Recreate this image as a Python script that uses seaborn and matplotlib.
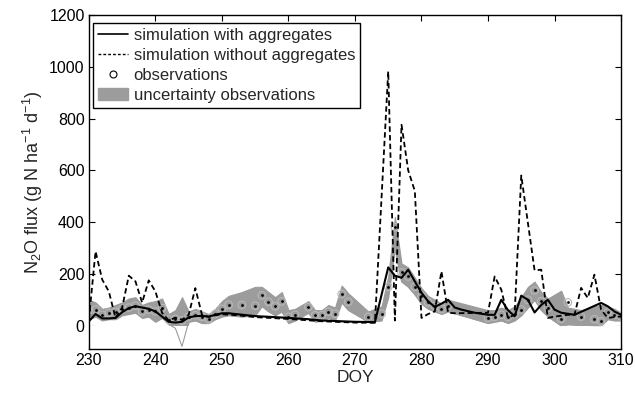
import numpy as np
import pandas as pd
import matplotlib
matplotlib.use('Agg')
import matplotlib.pyplot as plt
from matplotlib.lines import Line2D
from matplotlib.patches import Patch
import seaborn as sns

sns.set_style("ticks")
plt.rcParams['font.family'] = ['Liberation Sans', 'DejaVu Sans']
plt.rcParams['mathtext.default'] = 'regular'

#%% DATA

# simulation with aggregates
doy_agg = [230, 231, 232, 233, 234, 235, 236, 237, 238, 239, 240, 241, 242, 243,
           244, 245, 246, 247, 248, 249, 250, 251, 252, 255, 258, 260, 263, 265,
           268, 270, 273, 275, 276, 277, 278, 279, 280, 281, 282, 283, 284, 285,
           286, 288, 290, 291, 292, 293, 294, 295, 296, 297, 298, 299, 300, 301,
           303, 305, 307, 308, 309, 310]
flux_agg = [17, 45, 28, 28, 30, 52, 68, 75, 70, 65, 55, 35, 15, 12,
            15, 32, 37, 38, 35, 42, 48, 48, 45, 37, 33, 30, 25, 20,
            17, 15, 14, 225, 193, 185, 216, 171, 127, 94, 72, 85, 100, 70,
            62, 50, 42, 42, 100, 60, 36, 116, 100, 51, 80, 100, 62, 50,
            42, 65, 88, 75, 55, 42]

# simulation without aggregates
doy_noagg = [230, 231, 232, 233, 234, 235, 236, 237, 238, 239, 240, 241, 242, 243,
             244, 245, 246, 247, 248, 249, 250, 252, 255, 260, 265, 270, 273, 275,
             276, 277, 278, 279, 280, 281, 282, 283, 284, 285, 290, 291, 292, 293,
             294, 295, 297, 298, 299, 300, 302, 303, 304, 305, 306, 307, 308, 309, 310]
flux_noagg = [25, 287, 178, 132, 30, 70, 193, 171, 89, 175, 132, 50, 20, 31,
              23, 42, 145, 42, 34, 40, 44, 41, 33, 26, 17, 12, 11, 982,
              20, 776, 600, 520, 30, 45, 55, 210, 50, 48, 50, 190, 139, 30,
              42, 580, 214, 216, 30, 35, 42, 42, 146, 107, 197, 62, 30, 33, 36]

# observations and their uncertainty band
doy_obs = [230, 231, 232, 233, 234, 235, 236, 237, 238, 239, 240, 241, 242, 243,
           244, 245, 246, 247, 248, 249, 250, 251, 253, 255, 256, 257, 258, 259,
           260, 261, 263, 264, 265, 266, 267, 268, 269, 272, 274, 275, 276, 277,
           278, 279, 280, 281, 282, 283, 284, 290, 291, 292, 293, 294, 295, 296,
           297, 298, 299, 301, 302, 304, 306, 307, 308, 309, 310]
flux_obs = [60, 62, 42, 49, 53, 65, 70, 77, 55, 62, 55, 68, 23, 26,
            20, 35, 40, 34, 26, 45, 65, 81, 80, 77, 117, 92, 75, 94,
            34, 42, 72, 40, 40, 54, 46, 122, 92, 34, 46, 150, 380, 206,
            190, 150, 115, 90, 77, 64, 77, 30, 34, 42, 34, 45, 62, 100,
            136, 94, 68, 26, 90, 35, 25, 17, 51, 42, 36]
obs_low = [25, 35, 20, 25, 25, 40, 45, 50, 30, 35, 15, 30, 5, -10,
           -80, 15, 20, 10, 10, 25, 35, 40, 35, 40, 75, 55, 40, 55,
           10, 20, 50, 15, 20, 30, 20, 90, 60, 15, 20, 110, 300, 170,
           150, 120, 85, 65, 55, 45, 55, 10, 15, 20, 10, 20, 40, 70,
           100, 60, 35, 0, 5, 2, 0, 0, 25, 20, 20]
obs_high = [100, 90, 65, 70, 80, 90, 105, 110, 80, 90, 95, 105, 45, 60,
            110, 55, 65, 55, 45, 65, 95, 115, 130, 150, 150, 130, 110, 130,
            60, 65, 95, 60, 60, 80, 70, 155, 125, 55, 75, 190, 420, 240,
            225, 185, 145, 115, 100, 85, 100, 60, 60, 70, 60, 75, 110, 150,
            170, 130, 105, 135, 70, 60, 75, 80, 75, 65, 50]

agg = pd.DataFrame({'DOY': doy_agg, 'flux': flux_agg})
noagg = pd.DataFrame({'DOY': doy_noagg, 'flux': flux_noagg})
obs = pd.DataFrame({'DOY': doy_obs, 'flux': flux_obs, 'low': obs_low, 'high': obs_high})

#%% PLOT

band_grey = '#9c9c9c'
fig = plt.figure(figsize=(6.35, 3.93), dpi=100)
ax = fig.add_axes([0.140, 0.112, 0.838, 0.850])

ax.fill_between(obs.DOY, obs.low, obs.high, color=band_grey, lw=0.8,
                edgecolor=band_grey, zorder=1)
# the part of the band below zero shows only as an outline
ax.axhspan(-90, 0, color='white', zorder=1.5, lw=0)
ax.plot(obs.DOY, obs.low, color=band_grey, lw=0.8, zorder=1.6)

ax.scatter(obs.DOY, obs.flux, s=30, facecolors='none', edgecolors='#b8b8b8',
           linewidths=0.8, zorder=1.7)
ax.scatter(obs.DOY, obs.flux, s=4, color='black', lw=0, zorder=4)

sns.lineplot(data=noagg, x='DOY', y='flux', ax=ax, color='black', lw=1.3,
             linestyle=(0, (3, 1.8)), zorder=2)
sns.lineplot(data=agg, x='DOY', y='flux', ax=ax, color='black', lw=1.5, zorder=3)

ax.set_xlim(230, 310)
ax.set_ylim(-90, 1200)
ax.set_xticks(np.arange(230, 311, 10))
ax.set_yticks(np.arange(0, 1201, 200))
ax.tick_params(direction='in', top=True, right=True, length=4, width=0.8,
               labelsize=11.5, pad=3, colors='black')
for s in ax.spines.values():
    s.set_linewidth(1.0)
    s.set_color('black')

ax.set_xlabel('DOY', fontsize=12.5, labelpad=1)
ax.set_ylabel(r'N$_2$O flux (g N ha$^{-1}$ d$^{-1}$)', fontsize=13, labelpad=3)

handles = [Line2D([], [], color='black', lw=1.2),
           Line2D([], [], color='black', lw=1.0, linestyle=(0, (2, 1.5))),
           Line2D([], [], color='black', marker='o', markersize=5, lw=0,
                  markerfacecolor='white', markeredgewidth=0.8),
           Patch(facecolor=band_grey, edgecolor=band_grey)]
labels = ['simulation with aggregates', 'simulation without aggregates',
          'observations', 'uncertainty observations']
leg = ax.legend(handles, labels, loc='upper left', bbox_to_anchor=(0.0075, 0.976),
                borderaxespad=0, fontsize=12, fancybox=False, framealpha=1,
                edgecolor='black', handlelength=1.8, handletextpad=0.35,
                labelspacing=0.3, borderpad=0.3)
leg.get_frame().set_linewidth(1.0)

fig.savefig('out.png', dpi=100)
